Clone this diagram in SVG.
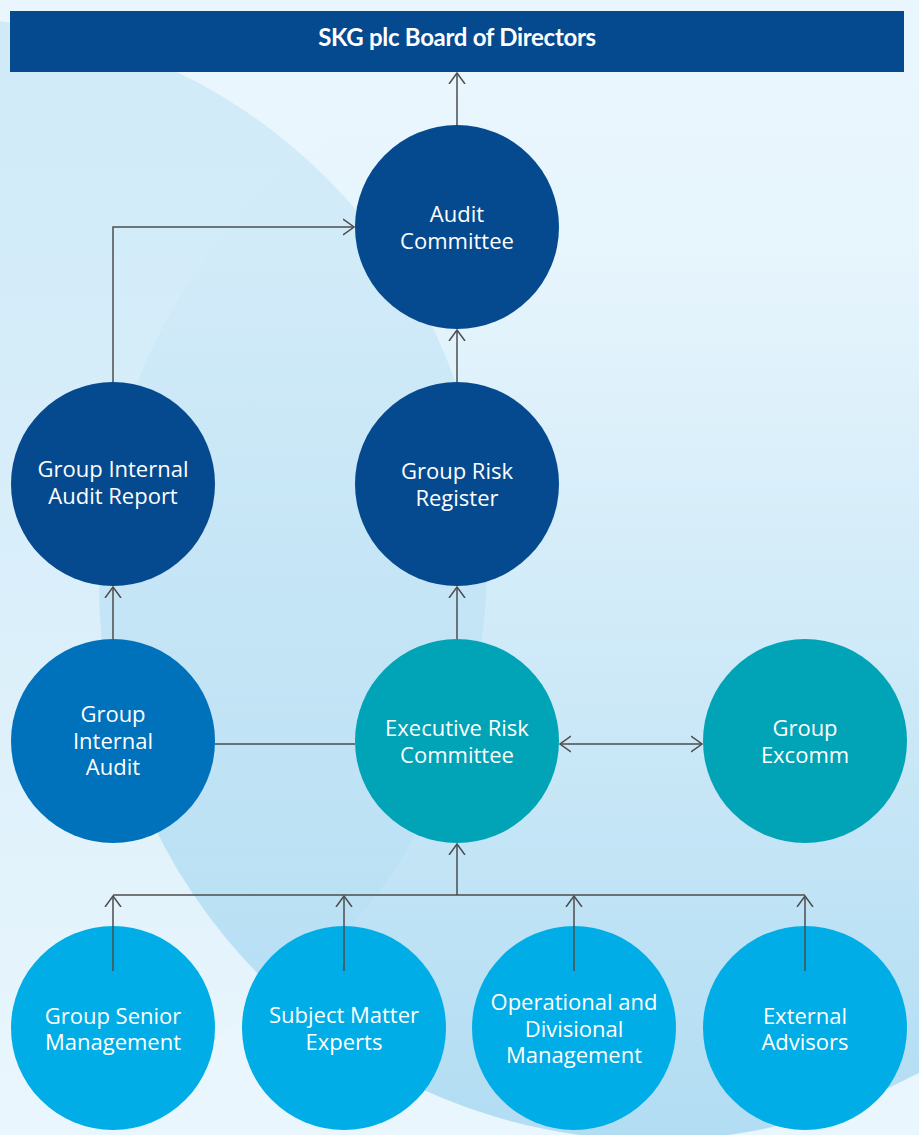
<svg xmlns="http://www.w3.org/2000/svg" width="919" height="1135" viewBox="0 0 919 1135">
  <defs>
    <linearGradient id="gA" x1="0" y1="0" x2="0" y2="1">
      <stop offset="0" stop-color="#008cd2" stop-opacity="0.11"/>
      <stop offset="0.5" stop-color="#008cd2" stop-opacity="0.07"/>
      <stop offset="1" stop-color="#008cd2" stop-opacity="0"/>
    </linearGradient>
    <linearGradient id="gB" x1="0" y1="0" x2="0" y2="1">
      <stop offset="0" stop-color="#008cd2" stop-opacity="0"/>
      <stop offset="0.2" stop-color="#008cd2" stop-opacity="0.01"/>
      <stop offset="1" stop-color="#008cd2" stop-opacity="0.24"/>
    </linearGradient>
    <marker id="arr" viewBox="0 0 12 18" refX="11" refY="9" markerWidth="12" markerHeight="18" markerUnits="userSpaceOnUse" orient="auto-start-reverse">
      <path d="M0,1 L11,9 L0,17" fill="none" stroke="#4d4d4d" stroke-width="1.5"/>
    </marker>
  </defs>
  <style>
    .lbl { font-family: "Open Sans", "Liberation Sans", sans-serif; font-size: 22px; fill: #ffffff; text-anchor: middle; }
    .hdr { font-family: Lato, "Liberation Sans", sans-serif; font-size: 24px; font-weight: bold; fill: #ffffff; text-anchor: middle; letter-spacing: -0.3px; }
    .navy { fill: #054a8f; }
    .blue { fill: #0071bb; }
    .teal { fill: #00a4b6; }
    .cyan { fill: #00ade6; }
    .con { fill: none; stroke: #4d4d4d; stroke-width: 1.5; }
  </style>

  <!-- background -->
  <rect x="0" y="0" width="919" height="1135" fill="#e9f6fd"/>
  <circle cx="-60" cy="565" r="547" fill="url(#gA)"/>
  <circle cx="654" cy="585" r="555" fill="url(#gB)"/>

  <g id="board">
    <rect x="10" y="11" width="894" height="61" class="navy"/>
    <text class="hdr" x="457" y="46">SKG plc Board of Directors</text>
  </g>

  <g id="connectors">
    <path class="con" d="M457,125 V73" marker-end="url(#arr)"/>
    <path class="con" d="M113,382 V227 H354" marker-end="url(#arr)"/>
    <path class="con" d="M457,382 V330" marker-end="url(#arr)"/>
    <path class="con" d="M113,639 V587" marker-end="url(#arr)"/>
    <path class="con" d="M457,639 V587" marker-end="url(#arr)"/>
    <path class="con" d="M215,744 H355"/>
    <path class="con" d="M560,744 H702" marker-start="url(#arr)" marker-end="url(#arr)"/>
    <path class="con" d="M113,895 H805"/>
    <path class="con" d="M457,895 V844" marker-end="url(#arr)"/>
    <path class="con" d="M113,971 V896" marker-end="url(#arr)"/>
    <path class="con" d="M344,971 V896" marker-end="url(#arr)"/>
    <path class="con" d="M574,971 V896" marker-end="url(#arr)"/>
    <path class="con" d="M805,971 V896" marker-end="url(#arr)"/>
  </g>

  <g id="audit-committee">
    <circle cx="457" cy="227" r="102" class="navy"/>
    <text class="lbl" x="457" y="222">Audit</text>
    <text class="lbl" x="457" y="249">Committee</text>
  </g>

  <g id="group-internal-audit-report">
    <circle cx="113" cy="484" r="102" class="navy"/>
    <text class="lbl" x="113" y="477">Group Internal</text>
    <text class="lbl" x="113" y="504">Audit Report</text>
  </g>

  <g id="group-risk-register">
    <circle cx="457" cy="484" r="102" class="navy"/>
    <text class="lbl" x="457" y="479">Group Risk</text>
    <text class="lbl" x="457" y="506">Register</text>
  </g>

  <g id="group-internal-audit">
    <circle cx="113" cy="741" r="102" class="blue"/>
    <text class="lbl" x="113" y="722">Group</text>
    <text class="lbl" x="113" y="749">Internal</text>
    <text class="lbl" x="113" y="775">Audit</text>
  </g>

  <g id="executive-risk-committee">
    <circle cx="457" cy="741" r="102" class="teal"/>
    <text class="lbl" x="457" y="736">Executive Risk</text>
    <text class="lbl" x="457" y="763">Committee</text>
  </g>

  <g id="group-excomm">
    <circle cx="805" cy="741" r="102" class="teal"/>
    <text class="lbl" x="805" y="736">Group</text>
    <text class="lbl" x="805" y="763">Excomm</text>
  </g>

  <g id="group-senior-management">
    <circle cx="113" cy="1028" r="102" class="cyan"/>
    <path class="con" d="M113,971 V926"/>
    <text class="lbl" x="113" y="1024">Group Senior</text>
    <text class="lbl" x="113" y="1050">Management</text>
  </g>

  <g id="subject-matter-experts">
    <circle cx="344" cy="1028" r="102" class="cyan"/>
    <path class="con" d="M344,971 V926"/>
    <text class="lbl" x="344" y="1023">Subject Matter</text>
    <text class="lbl" x="344" y="1050">Experts</text>
  </g>

  <g id="operational-divisional-management">
    <circle cx="574" cy="1028" r="102" class="cyan"/>
    <path class="con" d="M574,971 V926"/>
    <text class="lbl" x="574" y="1010">Operational and</text>
    <text class="lbl" x="574" y="1037">Divisional</text>
    <text class="lbl" x="574" y="1063">Management</text>
  </g>

  <g id="external-advisors">
    <circle cx="805" cy="1028" r="102" class="cyan"/>
    <path class="con" d="M805,971 V926"/>
    <text class="lbl" x="805" y="1024">External</text>
    <text class="lbl" x="805" y="1050">Advisors</text>
  </g>
</svg>
